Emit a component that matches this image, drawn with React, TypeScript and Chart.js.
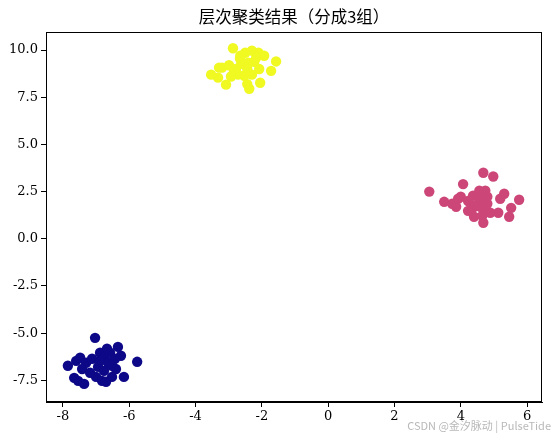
import React, { useEffect, useRef } from "react";
import { Chart, registerables } from "chart.js";

Chart.register(...registerables);

const TITLE = "层次聚类结果（分成3组）";
const WATERMARK = "CSDN @金汐脉动 | PulseTide";

const X_TICKS = [-8, -6, -4, -2, 0, 2, 4, 6];
const Y_TICKS = [-7.5, -5, -2.5, 0, 2.5, 5, 7.5, 10];
const X_MIN = -8.51;
const X_MAX = 6.45;
const Y_MIN = -8.65;
const Y_MAX = 10.96;

// cluster 0 (dark blue)
const blueX = [-7.03, -6.34, -5.76, -6.25, -7.85, -7.6, -7.48, -7.3, -7.12, -6.88, -6.76, -6.58, -6.43, -6.64, -6.94, -7.66, -7.54, -7.36, -7.0, -6.82, -6.7, -6.52, -6.16, -6.4, -6.76, -7.18, -7.42, -6.88, -6.67, -6.52];
const blueY = [-5.25, -5.73, -6.52, -6.2, -6.73, -6.47, -6.3, -6.57, -6.36, -6.04, -6.26, -6.04, -6.36, -6.57, -6.79, -7.37, -7.53, -7.69, -7.32, -7.53, -7.58, -7.32, -7.32, -6.9, -7.0, -7.1, -6.9, -6.47, -5.83, -6.73];

// cluster 1 (pink)
const pinkX = [3.05, 3.5, 3.74, 3.86, 4.07, 4.0, 4.22, 4.35, 4.4, 4.59, 4.68, 4.98, 4.74, 4.8, 4.7, 4.68, 4.89, 5.19, 5.31, 5.13, 5.52, 5.46, 5.76, 4.47, 4.59, 4.22, 3.92, 4.8, 4.56, 4.65, 4.37];
const pinkY = [2.5, 1.96, 1.86, 1.7, 2.9, 2.23, 2.0, 1.6, 1.17, 2.17, 3.5, 3.3, 2.55, 1.86, 1.5, 0.85, 1.38, 2.12, 2.39, 1.38, 1.64, 1.17, 2.07, 1.8, 1.7, 1.48, 2.12, 2.23, 2.55, 1.22, 2.28];

// cluster 2 (yellow)
const yellowX = [-2.87, -2.5, -2.3, -2.1, -1.93, -1.57, -1.72, -2.05, -2.38, -2.44, -3.53, -3.32, -3.08, -3.2, -2.99, -2.78, -2.62, -2.41, -2.23, -2.08, -2.3, -2.53, -2.72, -2.93, -2.17, -2.65, -2.44, -3.29, -2.66, -2.84];
const yellowY = [10.1, 9.86, 9.97, 9.86, 9.7, 9.4, 8.9, 8.27, 7.95, 8.2, 8.7, 8.54, 8.17, 9.07, 9.2, 9.0, 9.28, 9.33, 9.38, 9.0, 8.7, 8.64, 8.7, 8.6, 9.6, 9.7, 9.0, 9.07, 9.55, 8.9];

const COLORS = ["#0d0887", "#cc4778", "#f0f921"];

const toPoints = (xs: number[], ys: number[]) => xs.map((x, i) => ({ x, y: ys[i] }));

const TICK_FONT = { family: "'DejaVu Serif', serif", size: 13 };

export default function App() {
  const ref = useRef<HTMLCanvasElement | null>(null);

  useEffect(() => {
    const canvas = ref.current;
    if (!canvas) return;

    const framePlugin = {
      id: "frame",
      afterDraw(chart: any) {
        const { ctx, chartArea } = chart;
        ctx.save();
        ctx.strokeStyle = "#000";
        ctx.lineWidth = 1;
        ctx.strokeRect(
          Math.round(chartArea.left) + 0.5,
          Math.round(chartArea.top) + 0.5,
          Math.round(chartArea.right - chartArea.left) - 1,
          Math.round(chartArea.bottom - chartArea.top) - 1
        );
        ctx.fillStyle = "#000";
        ctx.font = "16.5px 'Noto Sans CJK SC', sans-serif";
        ctx.textAlign = "center";
        ctx.textBaseline = "middle";
        ctx.fillText(TITLE, (chartArea.left + chartArea.right) / 2, 17);
        ctx.fillStyle = "rgba(160,160,160,0.75)";
        ctx.font = "11px 'Noto Sans CJK SC', sans-serif";
        ctx.textAlign = "right";
        ctx.fillText(WATERMARK, 551, 426);
        ctx.restore();
      },
    };

    const chart = new Chart(canvas, {
      type: "scatter",
      data: {
        datasets: [
          { data: toPoints(blueX, blueY), backgroundColor: COLORS[0], borderWidth: 0, pointRadius: 5.2 },
          { data: toPoints(pinkX, pinkY), backgroundColor: COLORS[1], borderWidth: 0, pointRadius: 5.2 },
          { data: toPoints(yellowX, yellowY), backgroundColor: COLORS[2], borderWidth: 0, pointRadius: 5.2 },
        ],
      },
      options: {
        responsive: false,
        animation: false,
        devicePixelRatio: 1,
        layout: { padding: { top: 32, right: 10, left: 0, bottom: 0 } },
        plugins: {
          legend: { display: false },
          title: { display: false },
          tooltip: { enabled: false },
        },
        scales: {
          x: {
            type: "linear",
            min: X_MIN,
            max: X_MAX,
            afterBuildTicks: (scale: any) => {
              scale.ticks = X_TICKS.map((v) => ({ value: v }));
            },
            afterFit: (scale: any) => {
              scale.height = 35;
            },
            grid: { display: true, drawOnChartArea: false, drawTicks: true, tickLength: 5, color: "#000", lineWidth: 1 },
            border: { display: true, color: "#000" },
            ticks: {
              color: "#000",
              font: TICK_FONT,
              padding: 2,
              maxRotation: 0,
              autoSkip: false,
              callback: (v: any) => String(v),
            },
          },
          y: {
            type: "linear",
            min: Y_MIN,
            max: Y_MAX,
            afterBuildTicks: (scale: any) => {
              scale.ticks = Y_TICKS.map((v) => ({ value: v }));
            },
            afterFit: (scale: any) => {
              scale.width = 46;
            },
            grid: { display: true, drawOnChartArea: false, drawTicks: true, tickLength: 5, color: "#000", lineWidth: 1 },
            border: { display: true, color: "#000" },
            ticks: {
              color: "#000",
              font: TICK_FONT,
              padding: 3,
              autoSkip: false,
              callback: (v: any) => Number(v).toFixed(1),
            },
          },
        },
      },
      plugins: [framePlugin],
    } as any);

    return () => chart.destroy();
  }, []);

  return (
    <div style={{ position: "absolute", left: 0, top: 0, width: 552, height: 437, background: "#fff" }}>
      <canvas ref={ref} width={552} height={437} style={{ width: 552, height: 437 }} />
    </div>
  );
}
